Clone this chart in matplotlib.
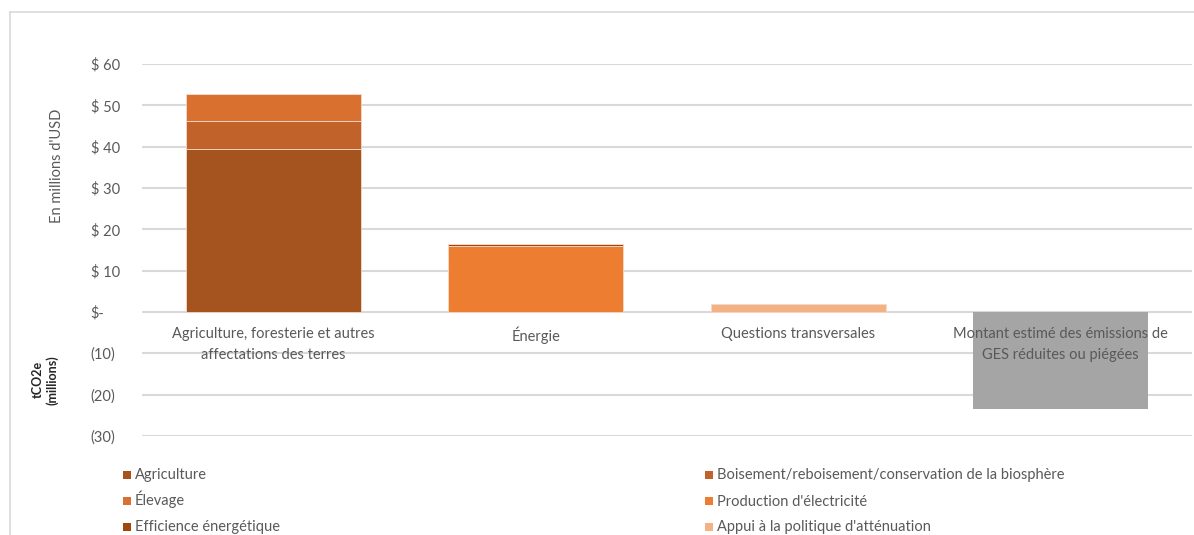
import matplotlib.pyplot as plt
from matplotlib.lines import Line2D
from matplotlib.patches import Rectangle

plt.rcParams['font.family'] = ['Lato', 'DejaVu Sans']

# Categories along the x axis
categories = [
    "Agriculture, foresterie et autres\naffectations des terres",
    "Énergie",
    "Questions transversales",
    "Montant estimé des émissions de\nGES réduites ou piégées",
]

# Funding per sub-sector (millions USD), stacked in this order
agriculture = [39.4, 0, 0, 0]
boisement = [6.9, 0, 0, 0]
elevage = [6.4, 0, 0, 0]
production = [0, 15.9, 0, 0]
efficience = [0, 0.5, 0, 0]
appui = [0, 0, 1.9, 0]
# Emissions reduced or sequestered (millions tCO2e), shown below zero
emissions = [0, 0, 0, -23.4]

series = [
    ("Agriculture", agriculture, "#a5541f"),
    ("Boisement/reboisement/conservation de la biosphère", boisement, "#c0622a"),
    ("Élevage", elevage, "#d97030"),
    ("Production d'électricité", production, "#ed7d31"),
    ("Efficience énergétique", efficience, "#9e480e"),
    ("Appui à la politique d'atténuation", appui, "#f4b183"),
]

yticks = [-30, -20, -10, 0, 10, 20, 30, 40, 50, 60]
ytick_labels = ["(30)", "(20)", "(10)", "$-", "$ 10", "$ 20", "$ 30", "$ 40", "$ 50", "$ 60"]

grey = "#595959"
W, H = 1194, 535

fig = plt.figure(figsize=(W / 100, H / 100), dpi=100)
ax = fig.add_axes([0.119, 0.185, 0.879, 0.6953])

x = list(range(len(categories)))
bottom = [0] * len(categories)
for name, vals, color in series:
    ax.bar(x, vals, width=0.667, bottom=bottom, color=color,
           edgecolor="#f3d9c8", linewidth=0.6, zorder=2)
    bottom = [b + v for b, v in zip(bottom, vals)]

ax.bar(x, emissions, width=0.667, color="#a5a5a5", zorder=2)

ax.set_xlim(-0.5, 3.5)
ax.set_ylim(-30, 60)
ax.set_yticks(yticks)
ax.set_yticklabels(ytick_labels, color=grey, fontsize=10.5, ha="left")
ax.set_xticks([])
ax.tick_params(axis="y", length=0, pad=37)
ax.grid(axis="y", color="#d9d9d9", linewidth=1.5, zorder=0)
for s in ax.spines.values():
    s.set_visible(False)

# Category labels sit just under the zero line
for i, label in enumerate(categories):
    ax.text(i, -3.6, label, ha="center", va="top", color=grey,
            fontsize=10.5, linespacing=1.6, zorder=5)

fig.text(0.048, 0.69, "En millions d'USD", rotation=90, ha="center",
         va="center", color=grey, fontsize=10.5)
fig.text(0.038, 0.29, "tCO2e\n(millions)", rotation=90, ha="center",
         va="center", color="#262626", fontsize=9, fontweight="bold",
         linespacing=1.2)

# Chart frame (top and left edges)
fig.add_artist(Line2D([10 / W, 10 / W], [0, 1 - 12 / H],
                      color="#d9d9d9", linewidth=1.2, transform=fig.transFigure))
fig.add_artist(Line2D([10 / W, 1], [1 - 12 / H, 1 - 12 / H],
                      color="#d9d9d9", linewidth=1.2, transform=fig.transFigure))

# Legend in two columns, filled row by row in series order
col_x = [123, 705]
row_y = [475, 501, 527]
for k, (name, vals, color) in enumerate(series):
    cx = col_x[k % 2]
    cy = row_y[k // 2]
    fig.add_artist(Rectangle((cx / W, 1 - (cy + 4) / H), 8 / W, 8 / H,
                             facecolor=color, edgecolor="none",
                             transform=fig.transFigure))
    fig.text((cx + 12) / W, 1 - (cy + 4.5) / H, name, ha="left",
             va="baseline", color=grey, fontsize=10.5)

fig.savefig("out.png", dpi=100)
